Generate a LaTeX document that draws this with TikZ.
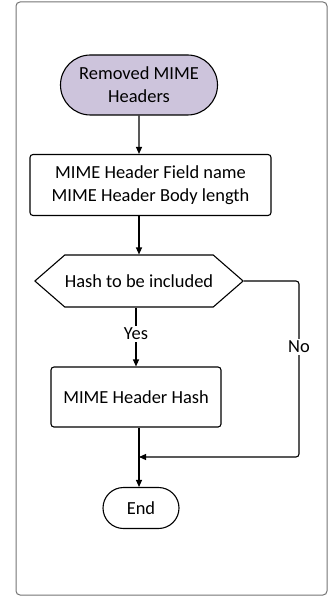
\documentclass[tikz,border=0pt]{standalone}
\usepackage{fontspec}
\setmainfont{Carlito}
\usetikzlibrary{arrows.meta}
\usetikzlibrary{positioning}
\usetikzlibrary{shapes.misc}
\usetikzlibrary{shapes.symbols}
\definecolor{startfill}{HTML}{CDC4DC}

\begin{document}
\begin{tikzpicture}[x=1bp,y=-1bp,>={Triangle[length=7bp,width=6bp]},semithick,
					font=\fontsize{18.5}{23}\selectfont,line width=1.1bp]
					\tikzstyle{term}=[draw,rounded rectangle,inner sep=2bp,align=center]
					\tikzstyle{proc}=[draw,rectangle,rounded corners=3bp,align=center]
					\tikzstyle{decide}=[draw,signal,signal to=east and west,signal pointer angle=82,
					inner sep=0pt,line join=round]
					
					\useasboundingbox (0,0) rectangle (333,597);
					\draw[gray!90!black,line width=1bp,rounded corners=4bp] (16,2) rectangle (327,595);
					
					\node[term,fill=startfill,minimum width=161bp,minimum height=60bp]
					(S_0) at (139,85) {Removed MIME\\Headers};
					\node[proc,minimum width=241bp,minimum height=61bp,node distance=100bp]
					(Fields) [below of=S_0,xshift=11.5bp] {MIME Header Field name\\MIME Header Body length};
					\node[decide,minimum width=208bp,minimum height=52bp,node distance=96bp]
					(Incl) [below of=S_0,yshift=-100bp] {Hash to be included};
					\node[proc,minimum width=170bp,minimum height=60bp,node distance=116bp]
					(Hash) [below of=Incl,xshift=-3bp] {MIME Header Hash};
					\node[term,minimum width=80bp,minimum height=41bp,node distance=227bp]
					(End) [below of=Incl,xshift=2bp] {End};
					
					\coordinate (Join) at (139,457);
					
					\draw[->] (S_0) -- (S_0 |- Fields.north);
					\draw[->] (S_0 |- Fields.south) -- (Incl.north);
					\draw[->] (Incl.south -| Hash.north) -- node[fill=white,inner sep=2bp,pos=0.45] {Yes} (Hash.north);
					\draw[->] (Join |- Hash.south) -- (Join |- End.north);
					\draw[->,rounded corners=3bp] (Incl.east) -- (299,281) -- node[fill=white,inner sep=2bp,pos=0.375] {No} (299,457) -- (Join);
\end{tikzpicture}
\end{document}
